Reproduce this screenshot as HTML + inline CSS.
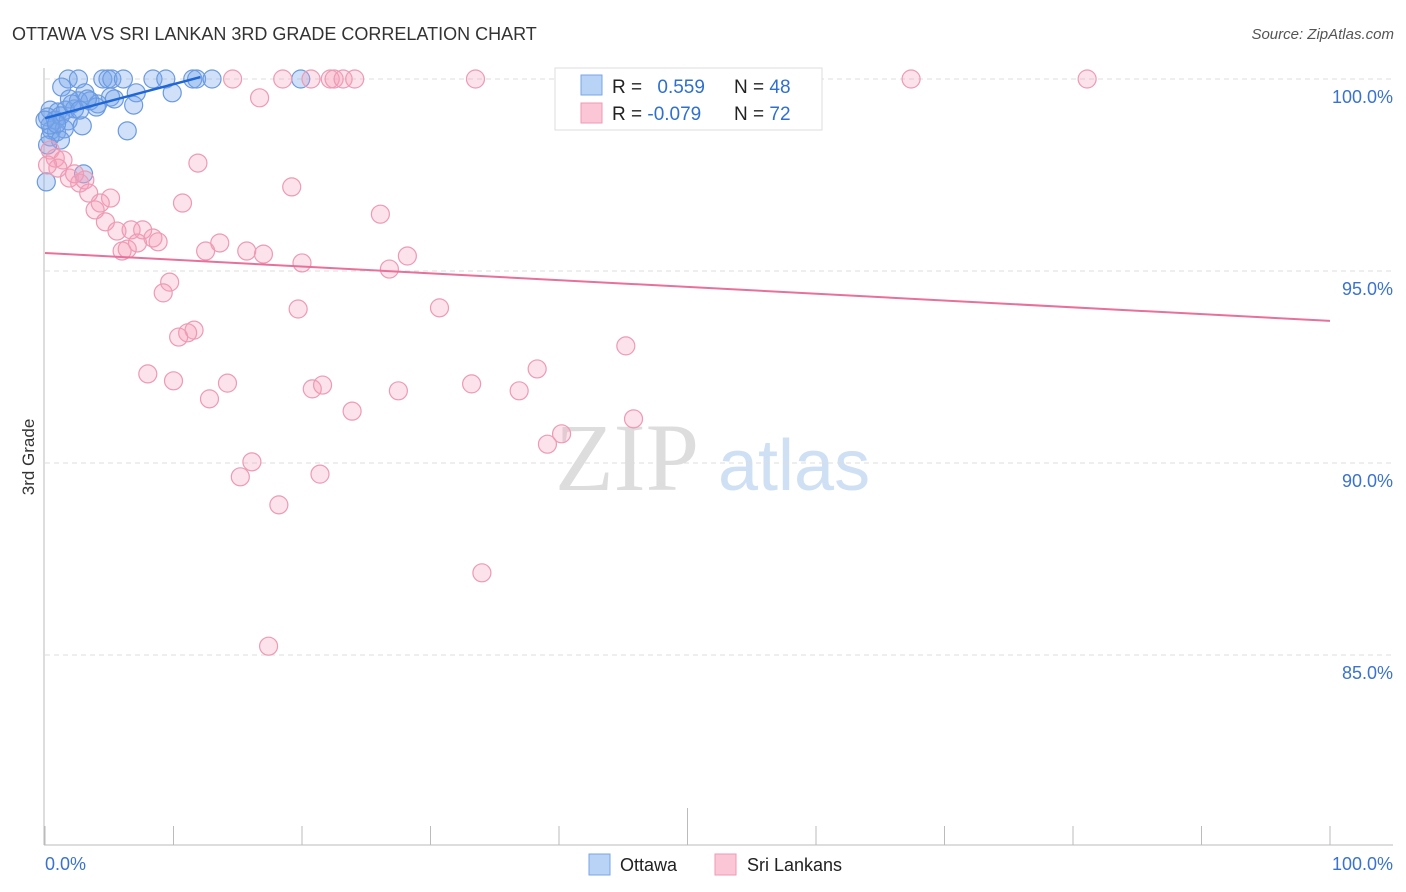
<!DOCTYPE html>
<html><head><meta charset="utf-8"><style>
body{margin:0;background:#fff;font-family:"Liberation Sans",sans-serif;}
svg{display:block}
</style></head><body>
<svg id="chart" width="1406" height="892" xmlns="http://www.w3.org/2000/svg">
<text x="12" y="40" font-size="18" fill="#333">OTTAWA VS SRI LANKAN 3RD GRADE CORRELATION CHART</text>
<text x="1394" y="39" font-size="15" fill="#555" font-style="italic" text-anchor="end">Source: ZipAtlas.com</text>
<text x="34" y="457" font-size="17" fill="#333" text-anchor="middle" transform="rotate(-90 34 457)">3rd Grade</text>
<g>
<text x="555" y="490" font-size="96" fill="#ddd" font-family="Liberation Serif,serif">ZIP</text>
<text x="718" y="490" font-size="72" fill="#cfe0f5">atlas</text>
</g>
<g id="grid"></g>
<g id="axes"></g>
<g id="blue"></g>
<g id="pink"></g>
<g id="trends"></g>
<g>
<rect x="555" y="68" width="267" height="62" fill="#fff" stroke="#ddd"/>
<rect x="581" y="75" width="21" height="20" fill="#b8d3f5" stroke="#7aa6e6"/>
<rect x="581" y="103" width="21" height="20" fill="#fbc6d5" stroke="#ef9ab5"/>
<text x="612" y="93" font-size="19" fill="#222">R = <tspan fill="#2f6fd0" dx="10">0.559</tspan></text>
<text x="734" y="93" font-size="19" fill="#222">N = <tspan fill="#2f6fd0">48</tspan></text>
<text x="612" y="120" font-size="19" fill="#222">R = <tspan fill="#2f6fd0">-0.079</tspan></text>
<text x="734" y="120" font-size="19" fill="#222">N = <tspan fill="#2f6fd0">72</tspan></text>
</g>
<g>
<rect x="589" y="854" width="21" height="21" fill="#b8d3f5" stroke="#7aa6e6"/>
<text x="620" y="871" font-size="18" fill="#222">Ottawa</text>
<rect x="715" y="854" width="21" height="21" fill="#fbc6d5" stroke="#ef9ab5"/>
<text x="747" y="871" font-size="18" fill="#222">Sri Lankans</text>
</g>
</svg>
<script>
const yTicks=[100,95,90,85];
const yTickLabels=["100.0%","95.0%","90.0%","85.0%"];
const xTickVals=[0,10,20,30,40,50,60,70,80,90,100];
const blueX=[1.8,2.6,4.5,4.9,5.2,6.1,8.4,9.4,11.5,11.8,13.0,19.9,1.3,3.1,5.1,7.1,9.9,1.9,2.6,3.5,4.1,5.4,6.9,0.4,1.0,1.6,2.3,4.0,0.2,0.8,1.2,1.8,2.9,0.5,0.9,1.5,0.4,1.2,6.4,0.2,0.1,3.0,0.4,0,2.1,3.3,0.9,2.7];
const blueY=[100,100,100,100,100,100,100,100,100,100,100,100,99.79,99.64,99.53,99.64,99.64,99.48,99.43,99.43,99.35,99.48,99.32,99.19,99.14,99.19,99.22,99.27,99.01,98.93,99.04,98.91,98.78,98.67,98.62,98.70,98.49,98.41,98.65,98.28,97.32,97.53,98.80,98.93,99.35,99.48,98.83,99.19];
const pinkX=[14.6,18.5,20.7,22.2,22.5,23.2,24.1,33.5,67.4,81.1,41.5,16.7,11.9,19.2,26.1,10.7,5.1,4.3,3.9,4.7,5.6,6.7,7.6,8.4,8.8,7.2,6.0,6.4,13.6,12.5,15.7,17.0,20.0,26.8,28.2,9.7,9.2,19.7,30.7,11.6,11.1,10.4,45.2,38.3,8.0,10.0,14.2,20.8,21.6,33.2,27.5,36.9,12.8,23.9,45.8,40.2,39.1,16.1,15.2,21.4,18.2,34.0,17.4,0.4,0.8,1.4,1.0,1.9,2.7,3.1,2.3,3.4,0.2];
const pinkY=[100,100,100,100,100,100,100,100,100,100,100,99.51,97.81,97.19,96.48,96.77,96.90,96.77,96.59,96.28,96.04,96.07,96.07,95.86,95.76,95.73,95.52,95.57,95.73,95.52,95.52,95.44,95.21,95.05,95.39,94.71,94.43,94.01,94.04,93.46,93.39,93.28,93.05,92.45,92.32,92.14,92.08,91.93,92.03,92.06,91.88,91.88,91.67,91.35,91.15,90.76,90.49,90.03,89.64,89.71,88.91,87.14,85.23,98.15,97.94,97.89,97.68,97.42,97.29,97.37,97.53,97.03,97.76];
const blueTrend=[[0,98.98],[12.1,100.05]];
const pinkTrend=[[0,95.47],[100,93.70]];
const NS="http://www.w3.org/2000/svg";
const xs=v=>45+v*12.85;
const ys=v=>79+(100-v)*38.4;
function mk(tag,attrs,parent){const e=document.createElementNS(NS,tag);for(const k in attrs)e.setAttribute(k,attrs[k]);parent.appendChild(e);return e;}
const grid=document.getElementById('grid'),axes=document.getElementById('axes');
yTicks.forEach((t,i)=>{
 const l=mk('line',{x1:45,x2:1393,y1:ys(t),y2:ys(t),stroke:'#ddd','stroke-dasharray':'5,4'},grid);
 
 
 const tx=mk('text',{x:1393,y:ys(t)+24,'font-size':18,fill:'#3a72d0','text-anchor':'end'},axes);
 tx.textContent=yTickLabels[i];
 
 
});
const ax=mk('line',{x1:44,x2:44,y1:68,y2:845,stroke:'#bbb'},axes);


const bx=mk('line',{x1:44,x2:1393,y1:845,y2:845,stroke:'#bbb'},axes);


xTickVals.forEach(v=>{
 const t=mk('line',{x1:xs(v),x2:xs(v),y1:v===50?808:826,y2:845,stroke:'#bbb'},axes);
 
 
});
const l0=mk('text',{x:45,y:870,'font-size':18,fill:'#3a72d0'},axes);l0.textContent='0.0%';


const l1=mk('text',{x:1393,y:870,'font-size':18,fill:'#3a72d0','text-anchor':'end'},axes);l1.textContent='100.0%';


function pts(X,Y,g,fill,stroke,name){X.forEach((x,i)=>{
 const c=mk('circle',{cx:xs(x),cy:ys(Y[i]),r:9,fill:fill,stroke:stroke,'stroke-width':1.2},g);
 
 
});}
pts(blueX,blueY,document.getElementById('blue'),'rgba(120,165,235,0.35)','#6b9ae0','ottawa-point');
pts(pinkX,pinkY,document.getElementById('pink'),'rgba(245,160,185,0.3)','#ee9ab4','sri-lankans-point');
const tr=document.getElementById('trends');
const bt=mk('line',{x1:xs(blueTrend[0][0]),y1:ys(blueTrend[0][1]),x2:xs(blueTrend[1][0]),y2:ys(blueTrend[1][1]),stroke:'#1f66d6','stroke-width':2.5},tr);


const pt=mk('line',{x1:xs(pinkTrend[0][0]),y1:ys(pinkTrend[0][1]),x2:xs(pinkTrend[1][0]),y2:ys(pinkTrend[1][1]),stroke:'#e8709a','stroke-width':2},tr);


</script>
</body></html>
